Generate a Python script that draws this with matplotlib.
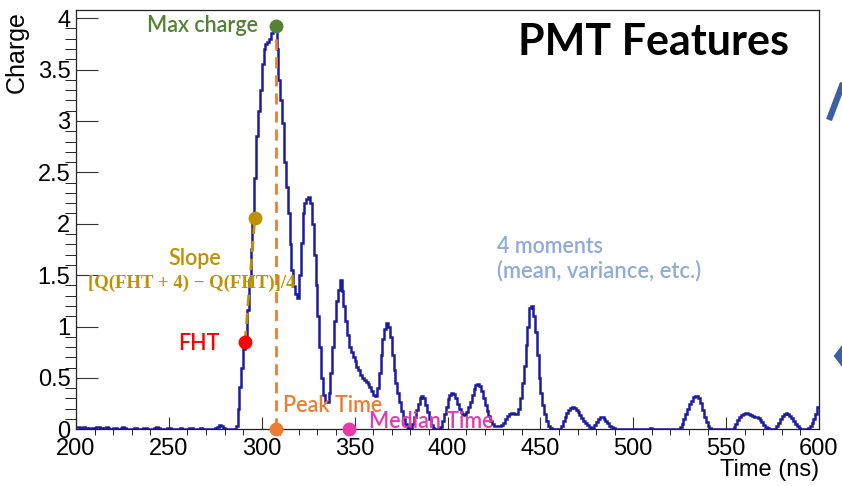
"""PMT waveform with the features used for reconstruction."""

import numpy as np
import matplotlib

matplotlib.use("Agg")
import matplotlib.pyplot as plt
from matplotlib.ticker import MultipleLocator, FuncFormatter
from matplotlib.patches import Polygon
from matplotlib.lines import Line2D

# waveform: 1 ns bins starting at 200 ns
t_start = 200
charge = [
    0.02, 0.02, 0.01, 0.01, 0.02, 0.01, 0.00, 0.01, 0.01, 0.00,  # 200
    0.01, 0.02, 0.02, 0.01, 0.00, 0.01, 0.02, 0.01, 0.00, 0.00,  # 210
    0.01, 0.01, 0.00, 0.00, 0.01, 0.02, 0.01, 0.00, 0.00, 0.00,  # 220
    0.00, 0.01, 0.01, 0.00, 0.00, 0.00, 0.01, 0.01, 0.00, 0.00,  # 230
    0.00, 0.00, 0.01, 0.02, 0.01, 0.00, 0.00, 0.00, 0.00, 0.01,  # 240
    0.01, 0.00, 0.00, 0.00, 0.00, 0.00, 0.01, 0.00, 0.00, 0.00,  # 250
    0.00, 0.01, 0.01, 0.00, 0.00, 0.00, 0.00, 0.01, 0.00, 0.00,  # 260
    0.00, 0.00, 0.00, 0.00, 0.00, 0.01, 0.02, 0.04, 0.03, 0.01,  # 270
    0.00, 0.00, 0.00, 0.00, 0.00, 0.00, 0.03, 0.20, 0.41, 0.60,  # 280
    0.78, 0.90, 1.16, 1.45, 1.75, 2.04, 2.45, 2.85, 3.10, 3.30,  # 290
    3.55, 3.70, 3.75, 3.77, 3.80, 3.86, 3.89, 3.92, 3.70, 3.40,  # 300
    3.20, 2.98, 2.60, 2.36, 2.10, 1.80, 1.55, 1.39, 1.32, 1.28,  # 310
    1.50, 1.81, 2.10, 2.20, 2.24, 2.26, 2.20, 2.00, 1.70, 1.40,  # 320
    1.10, 0.80, 0.50, 0.33, 0.28, 0.27, 0.35, 0.55, 0.80, 1.05,  # 330
    1.25, 1.36, 1.45, 1.35, 1.20, 1.05, 0.92, 0.80, 0.75, 0.70,  # 340
    0.66, 0.61, 0.58, 0.53, 0.50, 0.48, 0.46, 0.44, 0.41, 0.37,  # 350
    0.33, 0.32, 0.40, 0.55, 0.72, 0.88, 0.98, 1.03, 1.00, 0.90,  # 360
    0.72, 0.58, 0.45, 0.35, 0.27, 0.18, 0.10, 0.05, 0.02, 0.01,  # 370
    0.01, 0.05, 0.12, 0.19, 0.25, 0.30, 0.32, 0.30, 0.24, 0.17,  # 380
    0.10, 0.04, 0.01, 0.00, 0.00, 0.00, 0.02, 0.08, 0.15, 0.22,  # 390
    0.29, 0.33, 0.35, 0.34, 0.30, 0.25, 0.20, 0.17, 0.15, 0.14,  # 400
    0.17, 0.22, 0.27, 0.33, 0.39, 0.43, 0.44, 0.42, 0.37, 0.30,  # 410
    0.24, 0.18, 0.13, 0.08, 0.05, 0.03, 0.03, 0.03, 0.03, 0.04,  # 420
    0.06, 0.10, 0.13, 0.15, 0.16, 0.16, 0.15, 0.15, 0.20, 0.30,  # 430
    0.45, 0.62, 0.82, 1.00, 1.18, 1.20, 1.10, 0.95, 0.72, 0.50,  # 440
    0.35, 0.24, 0.15, 0.08, 0.03, 0.01, 0.00, 0.00, 0.00, 0.00,  # 450
    0.00, 0.03, 0.08, 0.12, 0.16, 0.19, 0.21, 0.22, 0.21, 0.19,  # 460
    0.17, 0.14, 0.11, 0.08, 0.06, 0.04, 0.02, 0.01, 0.01, 0.04,  # 470
    0.07, 0.10, 0.12, 0.12, 0.10, 0.08, 0.06, 0.03, 0.02, 0.01,  # 480
    0.00, 0.00, 0.00, 0.00, 0.00, 0.00, 0.00, 0.00, 0.00, 0.00,  # 490
    0.00, 0.00, 0.00, 0.00, 0.00, 0.00, 0.00, 0.00, 0.00, 0.01,  # 500
    0.00, 0.00, 0.00, 0.00, 0.00, 0.00, 0.00, 0.00, 0.00, 0.00,  # 510
    0.00, 0.00, 0.00, 0.00, 0.00, 0.02, 0.05, 0.10, 0.15, 0.20,  # 520
    0.25, 0.28, 0.31, 0.32, 0.32, 0.30, 0.26, 0.19, 0.12, 0.07,  # 530
    0.03, 0.01, 0.00, 0.00, 0.00, 0.00, 0.00, 0.00, 0.00, 0.00,  # 540
    0.00, 0.00, 0.00, 0.00, 0.02, 0.05, 0.09, 0.12, 0.14, 0.15,  # 550
    0.16, 0.16, 0.15, 0.14, 0.13, 0.12, 0.12, 0.11, 0.09, 0.07,  # 560
    0.04, 0.02, 0.01, 0.00, 0.00, 0.00, 0.00, 0.03, 0.06, 0.10,  # 570
    0.13, 0.15, 0.16, 0.15, 0.13, 0.11, 0.08, 0.05, 0.03, 0.01,  # 580
    0.00, 0.00, 0.00, 0.00, 0.01, 0.03, 0.06, 0.10, 0.15, 0.22,  # 590
]

# feature points (time in ns, charge)
fht = (291.0, 0.85)
slope_pt = (296.3, 2.06)
median_time = 347.0

C_HIST = "#1c1ca0"
C_GREEN = "#548235"
C_ORANGE = "#ED7D31"
C_GOLD = "#BF9000"
C_RED = "#FF0000"
C_PINK = "#E63BAA"
C_LIGHT = "#8FAADC"
C_ARROW = "#3A5FA5"

plt.rcParams["font.family"] = ["Liberation Sans", "DejaVu Sans"]

W, H = 842, 486
fig = plt.figure(figsize=(W / 100, H / 100), dpi=100)
ax = fig.add_axes([76 / W, 1 - 429.3 / H, 743 / W, 419.3 / H])

values = np.array(charge)
edges = t_start + np.arange(len(values) + 1)
ax.stairs(values, edges, baseline=None, color=C_HIST, lw=1.8, zorder=3)

ipk = int(np.argmax(values))
peak_time = edges[ipk] + 0.5
max_charge = values[ipk]

ax.set_xlim(200, 600)
ax.set_ylim(0, 4.08)

# dashed guides
ax.plot([peak_time, peak_time], [0, max_charge], ls=(0, (4, 2.5)),
        color=C_ORANGE, lw=2.0, zorder=4)
ax.plot([fht[0], slope_pt[0]], [fht[1], slope_pt[1]], ls=(0, (4, 2.5)),
        color=C_GOLD, lw=2.0, zorder=4)

dot = dict(marker="o", ms=9, ls="none", zorder=5, clip_on=False)
ax.plot([peak_time], [max_charge], color=C_GREEN, **dot)
ax.plot([slope_pt[0]], [slope_pt[1]], color=C_GOLD, **dot)
ax.plot([fht[0]], [fht[1]], color=C_RED, **dot)
ax.plot([peak_time], [0], color=C_ORANGE, **dot)
ax.plot([median_time], [0], color=C_PINK, **dot)

# ROOT-like axes
ax.xaxis.set_major_locator(MultipleLocator(50))
ax.xaxis.set_minor_locator(MultipleLocator(10))
ax.yaxis.set_major_locator(MultipleLocator(0.5))
ax.yaxis.set_minor_locator(MultipleLocator(0.1))
ax.yaxis.set_major_formatter(FuncFormatter(lambda v, p: f"{v:g}"))
ax.tick_params(axis="both", direction="in", top=False, right=False,
               labelsize=17, color="#333333", width=0.8)
ax.tick_params(axis="x", which="major", length=9, pad=6)
ax.tick_params(axis="x", which="minor", length=4.5)
ax.tick_params(axis="y", which="major", length=16, pad=4)
ax.tick_params(axis="y", which="minor", length=8)
for sp in ax.spines.values():
    sp.set_linewidth(0.9)
    sp.set_color("#222222")

ax.set_xlabel("Time (ns)", fontsize=17, loc="right")
ax.xaxis.set_label_coords(1.0, -0.072)
fig.text(17 / W, 1 - 11 / H, "Charge", fontsize=18, rotation=90,
         ha="center", va="top")


def px_text(x, y, s, color, ha="left", size=15.5, weight="semibold",
            family=("Lato", "DejaVu Sans")):
    fig.text(x / W, 1 - y / H, s, color=color, ha=ha, va="center",
             fontsize=size, fontweight=weight, family=list(family))


px_text(258, 26, "Max charge", C_GREEN, ha="right")
px_text(195, 258, "Slope", C_GOLD, ha="center")
px_text(192, 283, "[Q(FHT + 4) − Q(FHT)]/4", C_GOLD, ha="center",
        size=13.5, weight="bold", family=("Liberation Serif", "DejaVu Serif"))
px_text(220, 343, "FHT", C_RED, ha="right")
px_text(283, 405, "Peak Time", C_ORANGE)
px_text(369, 421, "Median Time", C_PINK)
px_text(497, 246, "4 moments", C_LIGHT)
px_text(497, 271, "(mean, variance, etc.)", C_LIGHT, size=15.8)
px_text(518, 42, "PMT Features", "black", size=31, weight="bold")

# pieces of the slide arrows beside the frame
fig.add_artist(Line2D([829 / W, 843 / W], [1 - 120 / H, 1 - 83 / H],
                      transform=fig.transFigure, color=C_ARROW, lw=4.5,
                      solid_capstyle="butt"))
fig.add_artist(Polygon([[834.5 / W, 1 - 356 / H], [843 / W, 1 - 345 / H],
                        [843 / W, 1 - 367 / H]], closed=True,
                       transform=fig.transFigure, color=C_ARROW))

fig.savefig("out.png", dpi=100)
